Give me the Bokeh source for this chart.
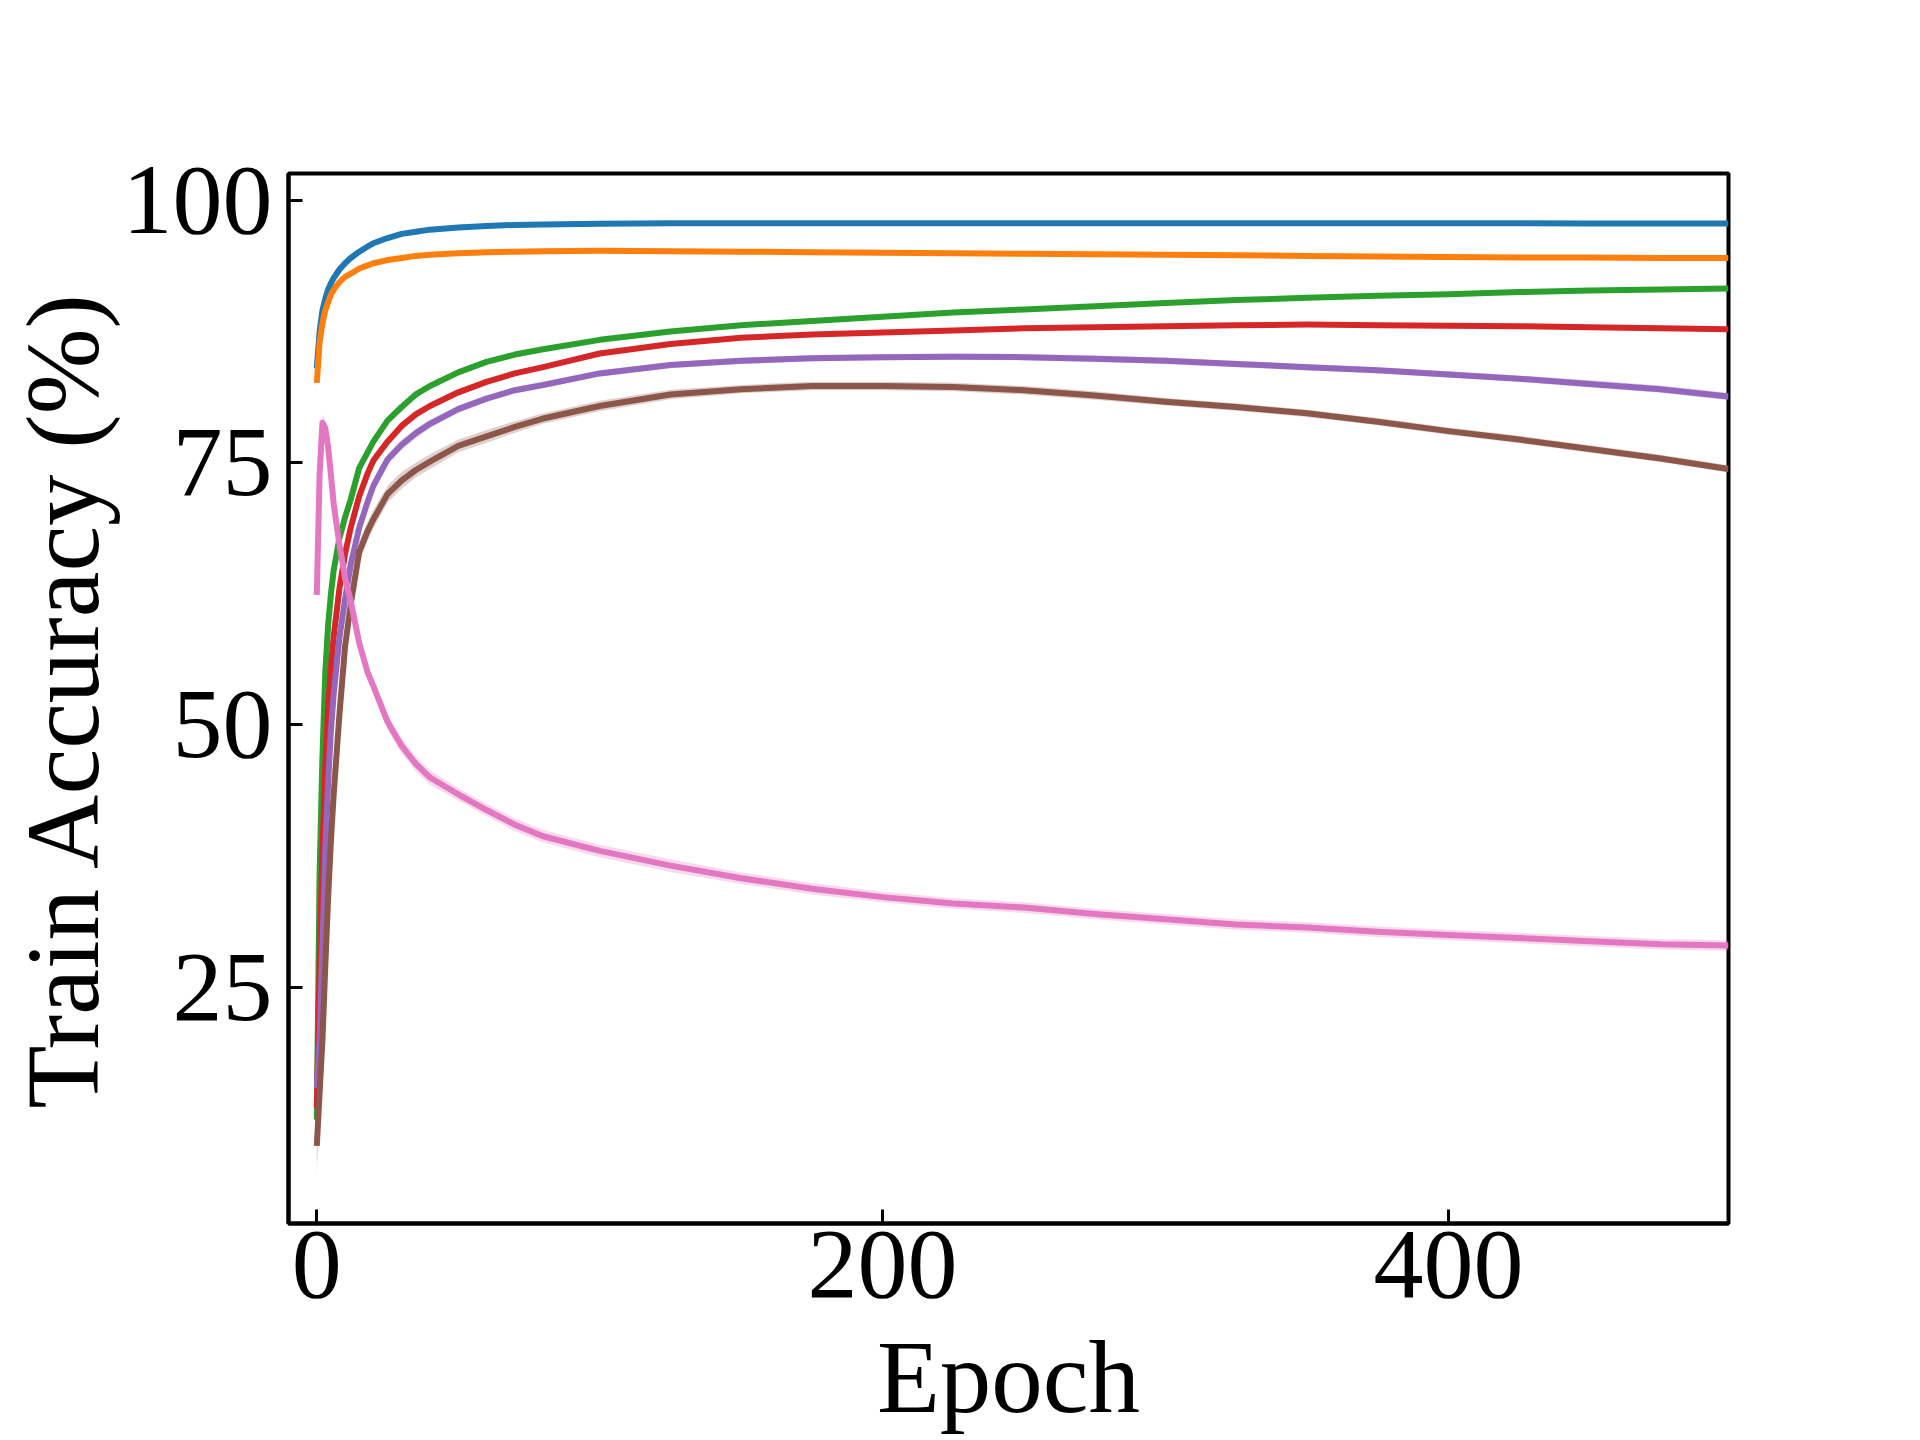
import numpy as np
from bokeh.plotting import figure
from bokeh.models import Range1d, FixedTicker
from bokeh.embed import file_html
from bokeh.resources import INLINE

# ---------------- data ----------------
epochs = [0, 1, 2, 3, 4, 5, 6, 8, 10, 12, 15, 18, 20, 25, 30, 35, 40, 50, 60, 70,
          80, 100, 125, 150, 175, 200, 225, 250, 275, 300, 325, 350, 375, 400,
          425, 450, 475, 499]

blue = [84.0, 87.5, 89.5, 90.6, 91.5, 92.1, 92.6, 93.4, 94.0, 94.5, 95.1, 95.6,
        95.9, 96.4, 96.8, 97.0, 97.2, 97.4, 97.55, 97.65, 97.7, 97.75, 97.8, 97.8,
        97.8, 97.8, 97.8, 97.8, 97.8, 97.8, 97.8, 97.8, 97.8, 97.8, 97.8, 97.78,
        97.78, 97.78]
orange = [82.6, 86.5, 88.3, 89.5, 90.3, 91.0, 91.5, 92.2, 92.7, 93.0, 93.5, 93.8,
          94.0, 94.3, 94.5, 94.7, 94.8, 94.95, 95.05, 95.1, 95.15, 95.2, 95.15,
          95.1, 95.05, 95.0, 94.95, 94.9, 94.85, 94.8, 94.75, 94.7, 94.65, 94.6,
          94.55, 94.55, 94.5, 94.5]
green = [12.4, 36.0, 47.0, 55.0, 59.5, 62.5, 64.8, 67.8, 69.8, 71.5, 74.5, 76.0,
         77.0, 79.0, 80.3, 81.5, 82.3, 83.6, 84.6, 85.3, 85.8, 86.7, 87.5, 88.1,
         88.5, 88.9, 89.3, 89.6, 89.9, 90.2, 90.5, 90.7, 90.9, 91.05, 91.25, 91.4,
         91.5, 91.6]
red = [13.5, 27.0, 38.0, 46.0, 51.5, 55.5, 58.5, 63.0, 66.3, 68.8, 71.8, 74.0,
       75.2, 77.0, 78.5, 79.6, 80.4, 81.7, 82.7, 83.5, 84.1, 85.4, 86.3, 86.9,
       87.2, 87.4, 87.6, 87.8, 87.9, 88.0, 88.1, 88.15, 88.1, 88.05, 88.0, 87.9,
       87.8, 87.7]
purple = [15.4, 20.0, 29.0, 38.0, 44.5, 49.5, 53.0, 58.3, 62.0, 65.3, 68.8, 71.3,
          72.8, 75.3, 76.7, 77.8, 78.7, 80.1, 81.1, 81.9, 82.4, 83.5, 84.3, 84.7,
          84.95, 85.05, 85.1, 85.05, 84.9, 84.7, 84.4, 84.1, 83.8, 83.4, 83.0, 82.5,
          82.0, 81.3]
brown = [9.9, 15.0, 20.0, 27.0, 33.5, 39.0, 43.5, 51.0, 57.5, 61.5, 66.5, 68.5,
         69.6, 72.0, 73.3, 74.3, 75.1, 76.6, 77.5, 78.4, 79.2, 80.4, 81.5, 82.0,
         82.3, 82.3, 82.2, 81.9, 81.4, 80.8, 80.3, 79.7, 78.9, 78.0, 77.2, 76.3,
         75.4, 74.4]
pink = [62.4, 74.0, 78.8, 78.3, 76.5, 73.8, 71.0, 67.2, 64.0, 61.8, 57.8, 55.0,
        53.7, 50.3, 48.0, 46.3, 45.0, 43.4, 41.9, 40.5, 39.4, 38.0, 36.6, 35.4,
        34.4, 33.6, 33.0, 32.6, 32.0, 31.5, 31.0, 30.7, 30.3, 30.0, 29.7, 29.4,
        29.1, 29.0]

# spread (std) bands
blue_sd = [0.6, 0.5, 0.4, 0.35, 0.3, 0.3, 0.25, 0.25, 0.2, 0.2, 0.2, 0.2, 0.2,
           0.15, 0.15, 0.15, 0.15, 0.15, 0.15, 0.15, 0.15, 0.15, 0.15, 0.15, 0.15,
           0.15, 0.15, 0.15, 0.15, 0.15, 0.15, 0.15, 0.15, 0.15, 0.15, 0.15, 0.15,
           0.15]
orange_sd = [0.6, 0.5, 0.4, 0.35, 0.3, 0.3, 0.25, 0.25, 0.2, 0.2, 0.2, 0.2, 0.2,
             0.15, 0.15, 0.15, 0.15, 0.15, 0.15, 0.15, 0.15, 0.15, 0.15, 0.15,
             0.15, 0.15, 0.15, 0.15, 0.15, 0.15, 0.15, 0.15, 0.15, 0.15, 0.15,
             0.15, 0.15, 0.15]
green_sd = [1.5, 3.0, 2.5, 2.0, 1.6, 1.3, 1.1, 0.9, 0.8, 0.7, 0.6, 0.5, 0.5, 0.4,
            0.4, 0.35, 0.3, 0.3, 0.25, 0.25, 0.2, 0.2, 0.2, 0.2, 0.2, 0.2, 0.2, 0.2,
            0.2, 0.2, 0.2, 0.2, 0.2, 0.2, 0.2, 0.2, 0.2, 0.2]
red_sd = [1.5, 2.5, 2.0, 1.7, 1.4, 1.2, 1.0, 0.9, 0.8, 0.7, 0.6, 0.5, 0.5, 0.45,
          0.4, 0.35, 0.3, 0.3, 0.25, 0.25, 0.25, 0.2, 0.2, 0.2, 0.2, 0.2, 0.2, 0.2,
          0.2, 0.2, 0.2, 0.2, 0.2, 0.2, 0.2, 0.2, 0.2, 0.2]
purple_sd = [1.2, 2.0, 1.8, 1.6, 1.4, 1.2, 1.1, 1.0, 0.9, 0.8, 0.7, 0.6, 0.6, 0.5,
             0.5, 0.45, 0.4, 0.35, 0.3, 0.3, 0.3, 0.3, 0.3, 0.3, 0.3, 0.3, 0.3,
             0.3, 0.3, 0.3, 0.3, 0.3, 0.3, 0.3, 0.3, 0.35, 0.35, 0.35]
brown_sd = [2.6, 2.2, 2.0, 1.8, 1.6, 1.5, 1.4, 1.3, 1.2, 1.1, 1.0, 0.9, 0.9, 0.8,
            0.8, 0.7, 0.7, 0.6, 0.6, 0.55, 0.5, 0.5, 0.45, 0.4, 0.4, 0.4, 0.4, 0.4,
            0.4, 0.35, 0.35, 0.35, 0.35, 0.35, 0.35, 0.35, 0.35, 0.35]
pink_sd = [0.8, 0.9, 0.8, 0.7, 0.7, 0.7, 0.7, 0.7, 0.7, 0.7, 0.7, 0.7, 0.7, 0.7,
           0.7, 0.7, 0.7, 0.6, 0.6, 0.6, 0.6, 0.6, 0.6, 0.55, 0.55, 0.5, 0.5, 0.5,
           0.5, 0.5, 0.5, 0.5, 0.5, 0.5, 0.5, 0.5, 0.5, 0.5]

x_ticks = [0, 200, 400]
y_ticks = [25, 50, 75, 100]
x_label = "Epoch"
y_label = "Train Accuracy (%)"

series = [
    (blue, blue_sd, "#1f77b4"),
    (orange, orange_sd, "#ff7f0e"),
    (green, green_sd, "#2ca02c"),
    (red, red_sd, "#d62728"),
    (purple, purple_sd, "#9467bd"),
    (brown, brown_sd, "#8c564b"),
    (pink, pink_sd, "#e377c2"),
]

# ---------------- figure ----------------
FONT = "Liberation Serif"
p = figure(width=1920, height=1440, output_backend="svg", toolbar_location=None,
           title=None,
           x_range=Range1d(-10, 499), y_range=Range1d(2.5, 102.55),
           min_border_left=288, min_border_right=192,
           min_border_top=173, min_border_bottom=217)
p.background_fill_color = "white"
p.border_fill_color = "white"
p.xgrid.visible = False
p.ygrid.visible = False
p.outline_line_color = "black"
p.outline_line_width = 4
p.outline_line_alpha = 1.0

x = np.array(epochs, dtype=float)
for vals, sd, col in series:
    m = np.array(vals)
    s = np.array(sd)
    assert len(m) == len(x) and len(s) == len(x)
    p.varea(x=x, y1=m - s, y2=m + s, fill_color=col, fill_alpha=0.28)
    p.line(x, m, line_color=col, line_width=6, line_join="round")

for ax in (p.xaxis[0], p.yaxis[0]):
    ax.axis_line_color = "black"
    ax.axis_line_width = 4
    ax.major_tick_line_color = "black"
    ax.major_tick_line_width = 3
    ax.major_tick_in = 14
    ax.major_tick_out = 0
    ax.minor_tick_line_color = None
    ax.major_label_text_font = FONT
    ax.major_label_text_font_size = "100px"
    ax.major_label_text_color = "black"
    ax.axis_label_text_font = FONT
    ax.axis_label_text_font_size = "103px"
    ax.axis_label_text_font_style = "normal"
    ax.axis_label_text_color = "black"

p.xaxis.ticker = FixedTicker(ticks=x_ticks)
p.yaxis.ticker = FixedTicker(ticks=y_ticks)
p.xaxis.axis_label = x_label
p.yaxis.axis_label = y_label
p.xaxis.major_label_standoff = 8
p.xaxis.axis_label_standoff = 20
p.yaxis.major_label_standoff = 16
p.yaxis.axis_label_standoff = 0

open("out.html", "w").write(file_html(p, INLINE))
